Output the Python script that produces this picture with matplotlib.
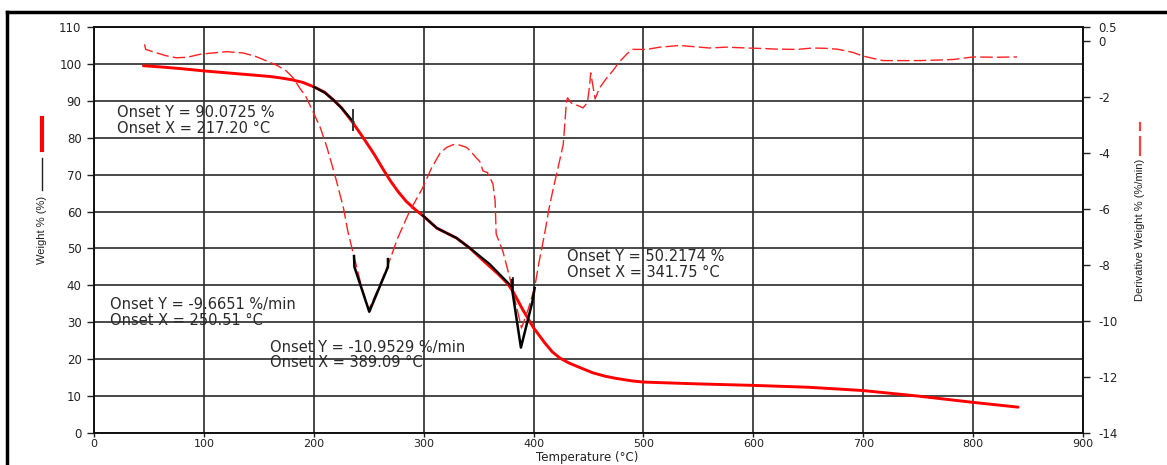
import matplotlib
matplotlib.use("Agg")
import matplotlib.pyplot as plt
from matplotlib.lines import Line2D

# ---------------- data ----------------
temp_w = [45, 60, 80, 100, 120, 140, 160, 170, 180, 190, 200, 210, 218, 225, 235, 245, 255,
          263, 270, 277, 284, 292, 300, 312, 330, 342, 355, 368, 376, 381, 390, 400, 410, 417,
          424, 432, 440, 454, 465, 475, 490, 500, 550, 600, 650, 700, 750, 800, 841]
weight = [99.5, 99.2, 98.7, 98.1, 97.6, 97.1, 96.6, 96.2, 95.7, 95.0, 93.8, 92.3, 90.2, 88.2,
          84.3, 80.0, 75.5, 71.5, 68.2, 65.3, 62.8, 60.6, 58.7, 55.5, 52.8, 50.1, 46.5, 43.0,
          40.6, 38.5, 33.5, 28.5, 24.5, 22.0, 20.3, 19.0, 18.0, 16.3, 15.4, 14.8, 14.1, 13.8,
          13.3, 12.9, 12.4, 11.5, 10.0, 8.3, 7.0]

temp_d = [46, 47, 55, 65, 75, 85, 97, 110, 121, 136, 147, 157, 167, 175, 182, 187, 193, 199,
          206, 212, 220, 227, 231, 236, 243, 250, 258, 268, 276, 287, 299, 307, 315, 321, 327,
          333, 339, 343, 348, 351, 354, 358, 363, 365, 366, 369, 372, 378, 384, 389, 395, 401,
          405, 410, 414, 418, 423, 427, 430, 431, 434, 436, 440, 445, 449, 451, 452, 454, 456,
          460, 466, 472, 478, 485, 490, 503, 515, 533, 545, 560, 575, 594, 610, 621, 640, 654,
          665, 676, 690, 700, 710, 718, 735, 752, 768, 782, 800, 820, 840]
deriv = [-0.12, -0.30, -0.40, -0.52, -0.60, -0.58, -0.47, -0.42, -0.38, -0.43, -0.55, -0.71,
         -0.88, -1.07, -1.35, -1.67, -2.00, -2.50, -3.10, -3.80, -4.90, -5.96, -6.80, -7.60,
         -8.70, -9.60, -8.90, -7.96, -7.07, -6.10, -5.25, -4.55, -4.00, -3.80, -3.70, -3.72,
         -3.80, -3.95, -4.18, -4.30, -4.64, -4.70, -5.10, -5.70, -6.90, -7.20, -7.50, -8.40,
         -9.40, -10.25, -9.60, -8.80, -7.90, -6.90, -6.00, -5.25, -4.40, -3.70, -2.14, -2.03,
         -2.20, -2.25, -2.30, -2.39, -2.20, -1.60, -1.14, -1.60, -2.07, -1.68, -1.35, -1.07,
         -0.75, -0.46, -0.30, -0.30, -0.22, -0.16, -0.20, -0.25, -0.22, -0.25, -0.27, -0.29,
         -0.30, -0.25, -0.26, -0.29, -0.40, -0.54, -0.63, -0.70, -0.70, -0.70, -0.68, -0.66,
         -0.57, -0.58, -0.57]

# black onset overlays (weight)
onset1_t = [200, 210, 218, 226, 236]
onset1_w = [93.8, 92.2, 90.2, 87.8, 84.3]
tick1_t = [236, 236]
tick1_w = [82.0, 87.5]
onset2_t = [299, 312, 330, 342, 360, 379]
onset2_w = [59.0, 55.5, 52.8, 50.1, 45.8, 40.0]
tick2_t = [381, 381]
tick2_w = [37.5, 42.0]

# black onset overlays (derivative)
vee1_t = [236.6, 237.0, 250.5, 267.5, 267.5]
vee1_d = [-7.68, -8.07, -9.67, -8.07, -7.79]
vee2_t = [380.4, 380.6, 388.5, 399.0, 401.0]
vee2_d = [-8.54, -8.90, -10.95, -9.3, -8.82]

annotations = [
    (21, 86.7, "Onset Y = 90.0725 %"),
    (21, 82.6, "Onset X = 217.20 °C"),
    (14.5, 34.7, "Onset Y = -9.6651 %/min"),
    (14.5, 30.6, "Onset X = 250.51 °C"),
    (160, 23.3, "Onset Y = -10.9529 %/min"),
    (160, 19.0, "Onset X = 389.09 °C"),
    (430, 47.7, "Onset Y = 50.2174 %"),
    (430, 43.4, "Onset X = 341.75 °C"),
]

x_ticks = list(range(0, 1000, 100))
y_ticks = list(range(0, 120, 10))
y2_ticks = [0.5, 0, -2, -4, -6, -8, -10, -12, -14]
y2_labels = ["0.5", "0", "-2", "-4", "-6", "-8", "-10", "-12", "-14"]

# ---------------- figure ----------------
W, H = 1167, 465
fig = plt.figure(figsize=(W / 100, H / 100), dpi=100)
ax = fig.add_axes([94 / W, 1 - 433 / H, (1083 - 94) / W, (433 - 27) / H])
ax2 = ax.twinx()

txt_col = "#222222"
ax.set_xlim(0, 900)
ax.set_ylim(0, 110)
ax.set_xticks(x_ticks)
ax.set_yticks(y_ticks)
ax.grid(True, color="#2a2a2a", lw=1.2)
ax.set_axisbelow(True)
ax.tick_params(axis="both", direction="out", length=5, width=1, color="#222222",
               labelsize=8.5, labelcolor=txt_col, pad=4)
ax.tick_params(axis="x", length=3, pad=1.5, labelsize=8)
for s in ax.spines.values():
    s.set_color("#111111")
    s.set_linewidth(1.2)

ax2.set_ylim(-14, 0.5)
ax2.set_yticks(y2_ticks)
ax2.set_yticklabels(y2_labels)
ax2.tick_params(axis="y", direction="out", length=5, width=1, color="#222222",
                labelsize=8.5, labelcolor=txt_col, pad=6)
for s in ax2.spines.values():
    s.set_color("#111111")
    s.set_linewidth(1.2)

# weight curve
ax.plot(temp_w, weight, color="#ff0000", lw=2.1, solid_capstyle="round",
        solid_joinstyle="round", zorder=3)
ax.plot(onset1_t, onset1_w, color="black", lw=1.6, zorder=4)
ax.plot(tick1_t, tick1_w, color="#333333", lw=1.4, zorder=4)
ax.plot(onset2_t, onset2_w, color="black", lw=1.6, zorder=4)
ax.plot(tick2_t, tick2_w, color="#333333", lw=1.4, zorder=4)

# derivative curve
ax2.plot(temp_d, deriv, color="#ff2020", lw=1.0, dashes=(9, 3), zorder=3)
ax2.plot(vee1_t, vee1_d, color="black", lw=1.8, zorder=4)
ax2.plot(vee2_t, vee2_d, color="black", lw=1.8, zorder=4)

for x, y, s in annotations:
    ax.text(x, y, s, fontsize=10.5, color="#2a2a2a", ha="left", va="center", zorder=5)

# axis labels & legend marks
fig.text(42 / W, 1 - 230 / H, "Weight % (%)", rotation=90, ha="center", va="center",
         fontsize=8, family="Liberation Sans", color=txt_col)
fig.add_artist(Line2D([42 / W, 42 / W], [1 - 118 / H, 1 - 150 / H], color="#ff0000", lw=3))
fig.add_artist(Line2D([42 / W, 42 / W], [1 - 158 / H, 1 - 190 / H], color="#222222", lw=1))

fig.text(1140 / W, 1 - 230 / H, "Derivative Weight % (%/min)", rotation=90, ha="center",
         va="center", fontsize=8, family="Liberation Sans", color=txt_col)
fig.add_artist(Line2D([1140 / W, 1140 / W], [1 - 123 / H, 1 - 130 / H], color="#ff4040", lw=1.6))
fig.add_artist(Line2D([1140 / W, 1140 / W], [1 - 137 / H, 1 - 155 / H], color="#ff4040", lw=1.6))

fig.text(587 / W, 0.002, "Temperature (°C)", ha="center", va="bottom",
         fontsize=8.5, color=txt_col)

# outer frame
fig.add_artist(Line2D([7 / W, 1.0], [1 - 12 / H, 1 - 12 / H], color="black", lw=2.5))
fig.add_artist(Line2D([7 / W, 7 / W], [1 - 12 / H, 0.0], color="black", lw=2.5))

fig.savefig("out.png", dpi=100, facecolor="white")
